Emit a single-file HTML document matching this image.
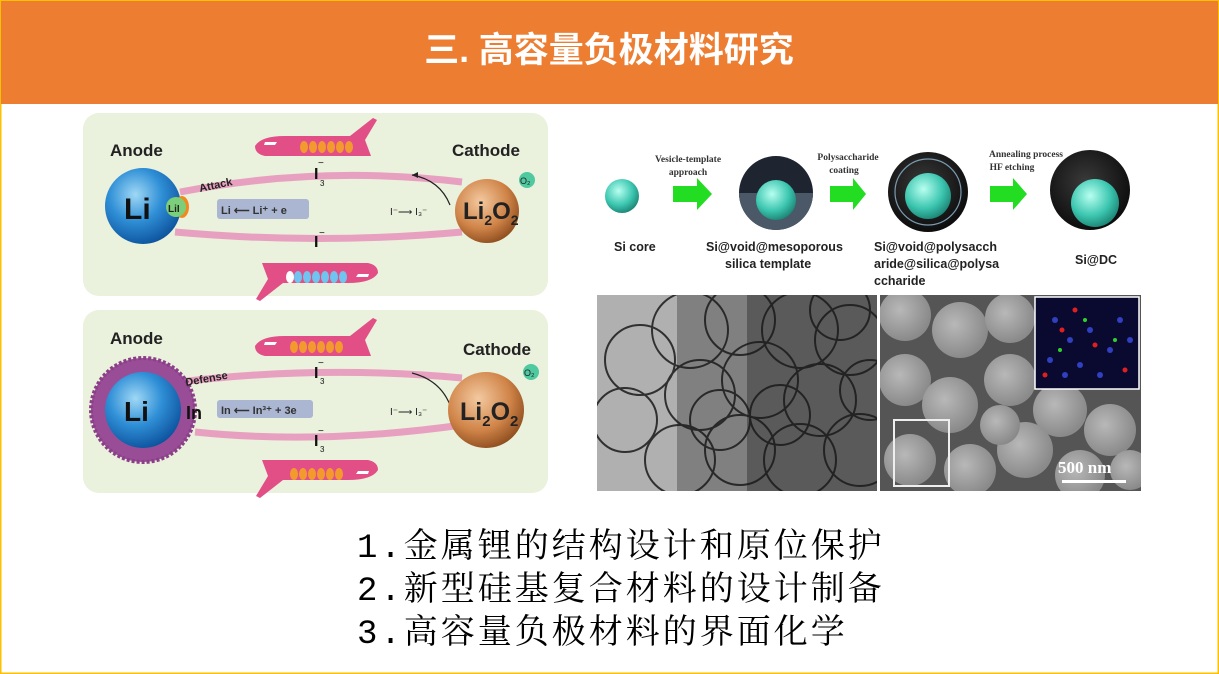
<!DOCTYPE html>
<html><head><meta charset="utf-8"><style>
html,body{margin:0;padding:0;background:#fff}
svg{display:block}
</style></head><body>
<svg width="1219" height="674" viewBox="0 0 1219 674" xmlns="http://www.w3.org/2000/svg" font-family="Liberation Sans, Noto Sans CJK SC, sans-serif">
<defs>
<radialGradient id="blue" cx="0.4" cy="0.35" r="0.7"><stop offset="0" stop-color="#9fd8f5"/><stop offset="0.5" stop-color="#2f8fd6"/><stop offset="1" stop-color="#0b4f9a"/></radialGradient>
<radialGradient id="org" cx="0.4" cy="0.35" r="0.7"><stop offset="0" stop-color="#f3c9a0"/><stop offset="0.6" stop-color="#d08448"/><stop offset="1" stop-color="#8a4a1c"/></radialGradient>
<radialGradient id="teal" cx="0.4" cy="0.35" r="0.7"><stop offset="0" stop-color="#b8fff0"/><stop offset="0.6" stop-color="#3cc6b0"/><stop offset="1" stop-color="#1a7f70"/></radialGradient>
<radialGradient id="dark" cx="0.45" cy="0.4" r="0.7"><stop offset="0" stop-color="#3a3a3a"/><stop offset="1" stop-color="#050505"/></radialGradient>
<radialGradient id="semb" cx="0.4" cy="0.4" r="0.6"><stop offset="0" stop-color="#b8b8b8"/><stop offset="1" stop-color="#8a8a8a"/></radialGradient>
<clipPath id="semclip"><rect x="880" y="295" width="261" height="196"/></clipPath>
<clipPath id="temclip"><rect x="597" y="295" width="280" height="196"/></clipPath>
<g id="planeR"><path d="M0,14 Q6,4 30,4 L95,4 L118,-14 L122,-12 L110,8 L116,24 L10,24 Q0,22 0,14Z" fill="#e14f86"/><path d="M10,10 L22,10 L20,13 L9,13Z" fill="#fff"/></g>
</defs>
<rect x="0" y="0" width="1219" height="674" fill="#fff"/>
<rect x="0.5" y="0.5" width="1218" height="673" fill="none" stroke="#FFC000" stroke-width="2"/>
<rect x="1" y="1" width="1217" height="103" fill="#ED7D31"/>
<text x="609" y="62" text-anchor="middle" font-size="35" font-weight="bold" fill="#fff" font-family="Liberation Sans, Noto Sans CJK SC, sans-serif">三. 高容量负极材料研究</text>

<!-- top left panel -->
<rect x="83" y="113" width="465" height="183" rx="16" fill="#eaf1dc"/>
<path d="M180,192 Q320,165 462,182" stroke="#e8a0c0" stroke-width="7" fill="none"/>
<path d="M175,232 Q320,245 462,232" stroke="#e8a0c0" stroke-width="7" fill="none"/>
<use href="#planeR" x="255" y="132"/>
<g fill="#f29a2e"><ellipse cx="304" cy="147" rx="4" ry="6"/><ellipse cx="313" cy="147" rx="4" ry="6"/><ellipse cx="322" cy="147" rx="4" ry="6"/><ellipse cx="331" cy="147" rx="4" ry="6"/><ellipse cx="340" cy="147" rx="4" ry="6"/><ellipse cx="349" cy="147" rx="4" ry="6"/></g>
<g transform="translate(378,287) scale(-1,-1)"><use href="#planeR"/></g>
<g fill="#6fc4f0"><ellipse cx="298" cy="277" rx="4" ry="6"/><ellipse cx="307" cy="277" rx="4" ry="6"/><ellipse cx="316" cy="277" rx="4" ry="6"/><ellipse cx="325" cy="277" rx="4" ry="6"/><ellipse cx="334" cy="277" rx="4" ry="6"/><ellipse cx="343" cy="277" rx="4" ry="6"/></g>
<ellipse cx="290" cy="277" rx="4" ry="6" fill="#fff"/>
<text x="110" y="156" font-size="17" font-weight="bold" fill="#222">Anode</text>
<text x="452" y="156" font-size="17" font-weight="bold" fill="#222">Cathode</text>
<circle cx="143" cy="206" r="38" fill="url(#blue)"/>
<text x="124" y="219" font-size="30" font-weight="bold" fill="#111">Li</text>
<ellipse cx="182" cy="207" rx="7" ry="11" fill="#f08a20"/>
<circle cx="176" cy="207" r="10" fill="#7ccf7a"/>
<text x="168" y="212" font-size="10" font-weight="bold" fill="#222">LiI</text>
<text x="200" y="192" font-size="11" font-weight="bold" fill="#222" transform="rotate(-12 200 192)">Attack</text>
<rect x="217" y="199" width="92" height="20" rx="3" fill="#aab6d2"/>
<text x="221" y="214" font-size="11" font-weight="bold" fill="#333">Li ⟵ Li⁺ + e</text>
<text x="314" y="179" font-size="16" font-weight="bold" fill="#111">I</text><text x="320" y="186" font-size="8" fill="#111">3</text><text x="318" y="166" font-size="10" fill="#111">−</text>
<text x="314" y="247" font-size="16" font-weight="bold" fill="#111">I</text><text x="319" y="236" font-size="10" fill="#111">−</text>
<text x="390" y="215" font-size="10" fill="#222">I⁻⟶ I₃⁻</text>
<path d="M450,205 Q440,180 412,175" stroke="#222" fill="none" stroke-width="1.2"/><path d="M412,175 l6,-3 l0,6z" fill="#222"/>
<circle cx="487" cy="211" r="32" fill="url(#org)"/>
<circle cx="527" cy="180" r="8" fill="#4fc9a0"/><text x="520" y="184" font-size="9" fill="#222">O₂</text>
<text x="463" y="219" font-size="24" font-weight="bold" fill="#222">Li<tspan font-size="14" dy="6">2</tspan><tspan dy="-6">O</tspan><tspan font-size="14" dy="6">2</tspan></text>

<!-- bottom left panel -->
<rect x="83" y="310" width="465" height="183" rx="16" fill="#eaf1dc"/>
<path d="M180,382 Q320,365 462,378" stroke="#e8a0c0" stroke-width="7" fill="none"/>
<path d="M195,432 Q320,445 462,425" stroke="#e8a0c0" stroke-width="7" fill="none"/>
<use href="#planeR" x="255" y="332"/>
<g fill="#f29a2e"><ellipse cx="294" cy="347" rx="4" ry="6"/><ellipse cx="303" cy="347" rx="4" ry="6"/><ellipse cx="312" cy="347" rx="4" ry="6"/><ellipse cx="321" cy="347" rx="4" ry="6"/><ellipse cx="330" cy="347" rx="4" ry="6"/><ellipse cx="339" cy="347" rx="4" ry="6"/></g>
<g transform="translate(378,484) scale(-1,-1)"><use href="#planeR"/></g>
<g fill="#f29a2e"><ellipse cx="294" cy="474" rx="4" ry="6"/><ellipse cx="303" cy="474" rx="4" ry="6"/><ellipse cx="312" cy="474" rx="4" ry="6"/><ellipse cx="321" cy="474" rx="4" ry="6"/><ellipse cx="330" cy="474" rx="4" ry="6"/><ellipse cx="339" cy="474" rx="4" ry="6"/></g>
<circle cx="143" cy="410" r="52" fill="#9a4d97" stroke="#8a3f88" stroke-width="4" stroke-dasharray="3 2"/>
<circle cx="143" cy="410" r="38" fill="url(#blue)"/>
<text x="110" y="344" font-size="17" font-weight="bold" fill="#222">Anode</text>
<text x="463" y="355" font-size="17" font-weight="bold" fill="#222">Cathode</text>
<text x="124" y="421" font-size="28" font-weight="bold" fill="#111">Li</text>
<text x="186" y="419" font-size="18" font-weight="bold" fill="#111">In</text>
<text x="186" y="386" font-size="11" font-weight="bold" fill="#222" transform="rotate(-10 186 386)">Defense</text>
<rect x="217" y="400" width="96" height="18" rx="3" fill="#aab6d2"/>
<text x="221" y="414" font-size="11" font-weight="bold" fill="#333">In ⟵ In³⁺ + 3e</text>
<text x="314" y="378" font-size="16" font-weight="bold" fill="#111">I</text><text x="320" y="384" font-size="8" fill="#111">3</text><text x="318" y="366" font-size="10" fill="#111">−</text>
<text x="314" y="446" font-size="16" font-weight="bold" fill="#111">I</text><text x="320" y="452" font-size="8" fill="#111">3</text><text x="318" y="434" font-size="10" fill="#111">−</text>
<text x="390" y="415" font-size="10" fill="#222">I⁻⟶ I₃⁻</text>
<path d="M450,405 Q440,380 412,373" stroke="#222" fill="none" stroke-width="1.2"/>
<circle cx="486" cy="410" r="38" fill="url(#org)"/>
<circle cx="531" cy="372" r="8" fill="#4fc9a0"/><text x="524" y="376" font-size="9" fill="#222">O₂</text>
<text x="460" y="420" font-size="25" font-weight="bold" fill="#222">Li<tspan font-size="15" dy="6">2</tspan><tspan dy="-6">O</tspan><tspan font-size="15" dy="6">2</tspan></text>

<!-- top right diagram -->
<circle cx="622" cy="196" r="17" fill="url(#teal)"/>
<polygon points="673,186 697,186 697,178 712,194 697,210 697,202 673,202" fill="#22dd22"/>
<polygon points="830,186 853,186 853,178 866,194 853,210 853,202 830,202" fill="#22dd22"/>
<polygon points="990,186 1013,186 1013,178 1027,194 1013,210 1013,202 990,202" fill="#22dd22"/>
<circle cx="776" cy="193" r="37" fill="#1e2430"/><path d="M739,193 A37,37 0 0 0 813,193 Z" fill="#4a5868"/>
<circle cx="776" cy="200" r="20" fill="url(#teal)"/>
<circle cx="928" cy="192" r="40" fill="url(#dark)"/><circle cx="928" cy="192" r="33" fill="none" stroke="#7a9ab0" stroke-width="1.2"/>
<circle cx="928" cy="196" r="23" fill="url(#teal)"/>
<circle cx="1090" cy="190" r="40" fill="url(#dark)"/>
<circle cx="1095" cy="203" r="24" fill="url(#teal)"/>
<g font-family="Liberation Serif, serif" font-weight="bold" font-size="9.5" fill="#333" text-anchor="middle">
<text x="688" y="162">Vesicle-template</text><text x="688" y="175">approach</text>
<text x="848" y="160">Polysaccharide</text><text x="844" y="173">coating</text>
<text x="1026" y="157">Annealing process</text><text x="1012" y="170">HF etching</text>
</g>
<g font-size="12.5" font-weight="bold" fill="#222">
<text x="614" y="251">Si core</text>
<text x="706" y="251">Si@void@mesoporous</text><text x="725" y="268">silica template</text>
<text x="874" y="251">Si@void@polysacch</text><text x="874" y="268">aride@silica@polysa</text><text x="874" y="285">ccharide</text>
<text x="1075" y="264">Si@DC</text>
</g>

<!-- TEM -->
<g clip-path="url(#temclip)">
<rect x="597" y="295" width="280" height="196" fill="#5a5a5a"/>
<rect x="597" y="295" width="80" height="196" fill="#b0b0b0"/>
<rect x="677" y="295" width="70" height="196" fill="#808080"/>
<g fill="none" stroke="#1a1a1a" stroke-width="2" opacity="0.85">
<circle cx="640" cy="360" r="35"/><circle cx="625" cy="420" r="32"/><circle cx="690" cy="330" r="38"/><circle cx="700" cy="395" r="35"/><circle cx="680" cy="460" r="35"/><circle cx="740" cy="320" r="35"/><circle cx="760" cy="380" r="38"/><circle cx="740" cy="450" r="35"/><circle cx="800" cy="330" r="38"/><circle cx="820" cy="400" r="36"/><circle cx="800" cy="460" r="36"/><circle cx="850" cy="340" r="35"/><circle cx="860" cy="450" r="36"/><circle cx="780" cy="415" r="30"/><circle cx="720" cy="420" r="30"/><circle cx="840" cy="310" r="30"/><circle cx="870" cy="390" r="30"/>
</g>
</g>
<!-- SEM -->
<g clip-path="url(#semclip)">
<rect x="880" y="295" width="261" height="196" fill="#555"/>
<g fill="url(#semb)">
<circle cx="905" cy="315" r="26"/><circle cx="960" cy="330" r="28"/><circle cx="1010" cy="318" r="25"/><circle cx="905" cy="380" r="26"/><circle cx="950" cy="405" r="28"/><circle cx="1010" cy="380" r="26"/><circle cx="1060" cy="410" r="27"/><circle cx="1110" cy="430" r="26"/><circle cx="910" cy="460" r="26"/><circle cx="970" cy="470" r="26"/><circle cx="1025" cy="450" r="28"/><circle cx="1080" cy="475" r="25"/><circle cx="1000" cy="425" r="20"/><circle cx="1130" cy="470" r="20"/>
</g>
</g>
<rect x="1035" y="297" width="104" height="92" fill="#0a0a30" stroke="#fff" stroke-width="1.5"/>
<g fill="#3040c0"><circle cx="1055" cy="320" r="3"/><circle cx="1070" cy="340" r="3"/><circle cx="1090" cy="330" r="3"/><circle cx="1110" cy="350" r="3"/><circle cx="1080" cy="365" r="3"/><circle cx="1120" cy="320" r="3"/><circle cx="1050" cy="360" r="3"/><circle cx="1100" cy="375" r="3"/><circle cx="1065" cy="375" r="3"/><circle cx="1130" cy="340" r="3"/></g>
<g fill="#e02020"><circle cx="1062" cy="330" r="2.5"/><circle cx="1095" cy="345" r="2.5"/><circle cx="1125" cy="370" r="2.5"/><circle cx="1075" cy="310" r="2.5"/><circle cx="1045" cy="375" r="2.5"/></g>
<g fill="#30d030"><circle cx="1085" cy="320" r="2"/><circle cx="1115" cy="340" r="2"/><circle cx="1060" cy="350" r="2"/></g>
<rect x="894" y="420" width="55" height="66" fill="none" stroke="#eee" stroke-width="2"/>
<text x="1058" y="473" font-family="Liberation Serif, serif" font-weight="bold" font-size="17" fill="#fff">500 nm</text>
<rect x="1062" y="480" width="64" height="3" fill="#fff"/>

<!-- bullet text -->
<g font-family="Liberation Mono, Noto Serif CJK SC, monospace" font-size="34" fill="#000" letter-spacing="3">
<text x="357" y="557">1.金属锂的结构设计和原位保护</text>
<text x="357" y="600">2.新型硅基复合材料的设计制备</text>
<text x="357" y="643">3.高容量负极材料的界面化学</text>
</g>
</svg>
</body></html>
